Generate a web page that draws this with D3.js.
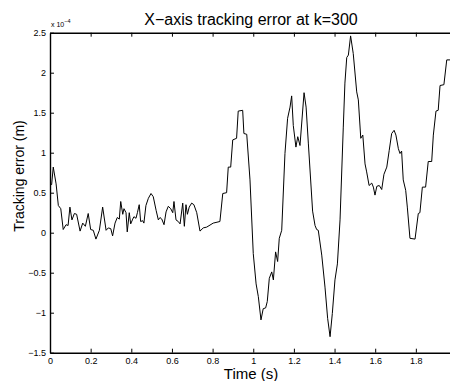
<!DOCTYPE html>
<html>
<head>
<meta charset="utf-8">
<script src="https://cdn.jsdelivr.net/npm/d3@7"></script>
<style>
  body { margin: 0; background: #fff; }
  svg { display: block; font-family: "Liberation Sans", Arial, Helvetica, sans-serif; }
</style>
</head>
<body>
<div id="chart"></div>
<script>
// time (s)
const timeValues = [
  0.000, 0.008, 0.016, 0.030, 0.041, 0.053, 0.065, 0.079, 0.089, 0.098,
  0.108, 0.120, 0.131, 0.148, 0.161, 0.174, 0.188, 0.200, 0.213, 0.226,
  0.243, 0.259, 0.276, 0.287, 0.299, 0.308, 0.320, 0.331, 0.341, 0.348,
  0.358, 0.364, 0.374, 0.380, 0.390, 0.397, 0.407, 0.413, 0.423, 0.430,
  0.439, 0.446, 0.456, 0.462, 0.472, 0.484, 0.497, 0.508, 0.522, 0.533,
  0.541, 0.550, 0.561, 0.571, 0.582, 0.594, 0.604, 0.610, 0.620, 0.631,
  0.640, 0.653, 0.661, 0.669, 0.676, 0.685, 0.697, 0.708, 0.722, 0.738,
  0.754, 0.771, 0.803, 0.836, 0.850, 0.869, 0.877, 0.889, 0.899, 0.918,
  0.926, 0.948, 0.954, 0.968, 0.984, 1.000, 1.014, 1.025, 1.038, 1.049,
  1.061, 1.069, 1.079, 1.091, 1.099, 1.110, 1.120, 1.128, 1.140, 1.156,
  1.169, 1.181, 1.189, 1.197, 1.210, 1.219, 1.230, 1.250, 1.260, 1.271,
  1.292, 1.304, 1.312, 1.320, 1.337, 1.353, 1.366, 1.378, 1.389, 1.402,
  1.414, 1.427, 1.443, 1.451, 1.460, 1.468, 1.479, 1.492, 1.509, 1.517,
  1.529, 1.539, 1.550, 1.558, 1.570, 1.583, 1.591, 1.599, 1.608, 1.620,
  1.632, 1.643, 1.657, 1.669, 1.681, 1.693, 1.702, 1.714, 1.722, 1.730,
  1.738, 1.750, 1.758, 1.771, 1.796, 1.812, 1.820, 1.832, 1.848, 1.861,
  1.878, 1.886, 1.899, 1.910, 1.919, 1.938, 1.952, 1.968
]
// tracking error, units of 1e-4 m
const errorValues = [
  0.62, 0.60, 0.82, 0.61, 0.34, 0.30, 0.04, 0.10, 0.09, 0.32,
  0.16, 0.24, 0.23, 0.02, 0.12, 0.08, 0.24, 0.04, 0.03, -0.08,
  0.03, 0.32, 0.03, 0.06, 0.05, -0.04, 0.12, 0.19, 0.17, 0.39,
  0.23, 0.30, 0.25, 0.01, 0.25, 0.11, 0.17, 0.20, 0.18, 0.25,
  0.35, 0.14, 0.15, 0.12, 0.34, 0.43, 0.49, 0.45, 0.28, 0.16,
  0.19, 0.17, 0.10, 0.26, 0.33, 0.30, 0.25, 0.39, 0.16, 0.14,
  0.11, 0.37, 0.08, 0.35, 0.23, 0.32, 0.37, 0.35, 0.25, 0.02,
  0.06, 0.07, 0.12, 0.14, 0.49, 0.50, 0.82, 0.82, 1.16, 1.18,
  1.52, 1.53, 1.24, 1.23, 0.66, -0.26, -0.64, -0.80, -1.09, -0.95,
  -0.94, -0.86, -0.57, -0.49, -0.59, -0.24, -0.36, -0.07, 0.03, 0.99,
  1.43, 1.57, 1.71, 1.34, 1.07, 1.20, 1.09, 1.75, 1.57, 1.12,
  0.27, 0.09, 0.04, 0.03, -0.28, -0.68, -1.07, -1.30, -1.01, -0.59,
  -0.39, 0.16, 1.32, 1.87, 2.19, 2.22, 2.46, 2.24, 1.76, 1.66,
  1.18, 1.22, 0.86, 0.76, 0.59, 0.62, 0.57, 0.47, 0.58, 0.59,
  0.54, 0.73, 0.82, 1.03, 1.24, 1.28, 1.22, 1.05, 0.99, 1.02,
  0.66, 0.53, 0.32, -0.07, -0.08, 0.24, 0.25, 0.57, 0.57, 0.89,
  0.89, 1.22, 1.52, 1.53, 1.84, 1.85, 2.16, 2.16
]
const xTicks = [0, 0.2, 0.4, 0.6, 0.8, 1, 1.2, 1.4, 1.6, 1.8]
const yTicks = [-1.5, -1, -0.5, 0, 0.5, 1, 1.5, 2, 2.5]

const W = 450, H = 381
const plotLeft = 50, plotTop = 32.7, plotBottom = 352.7

const x = d3.scaleLinear().domain([0, 1.98]).range([plotLeft, plotLeft + 1.98 * 203.25])
const y = d3.scaleLinear().domain([-1.5, 2.5]).range([plotBottom, plotTop])

const svg = d3.select("#chart").append("svg")
  .attr("width", W)
  .attr("height", H)

const fmt = d => d3.format("")(d).replace("-", "\u2212")

// bottom + top axes, ticks pointing inward
svg.append("g")
  .attr("transform", `translate(0,${plotBottom})`)
  .call(d3.axisBottom(x).tickValues(xTicks).tickSizeInner(-4).tickSizeOuter(0).tickPadding(4.5).tickFormat(fmt))
svg.append("g")
  .attr("transform", `translate(0,${plotTop})`)
  .call(d3.axisTop(x).tickValues(xTicks).tickSizeInner(-4).tickSizeOuter(0).tickFormat(""))
svg.append("g")
  .attr("transform", `translate(${plotLeft},0)`)
  .call(d3.axisLeft(y).tickValues(yTicks).tickSizeInner(-4).tickSizeOuter(0).tickPadding(4).tickFormat(fmt))

svg.selectAll(".domain").attr("stroke", "#000").attr("stroke-width", 1.4)
svg.selectAll(".tick line").attr("stroke", "#000").attr("stroke-width", 1)
svg.selectAll(".tick text")
  .attr("fill", "#000")
  .attr("font-size", 9)
  .style("font-family", "Liberation Sans, Arial, sans-serif")

const line = d3.line()
  .x((d, i) => x(timeValues[i]))
  .y(d => y(d))

svg.append("path")
  .datum(errorValues)
  .attr("fill", "none")
  .attr("stroke", "#000")
  .attr("stroke-width", 1)
  .attr("stroke-linejoin", "round")
  .attr("d", line)

// exponent label
const ex = svg.append("text")
  .attr("x", plotLeft + 1)
  .attr("y", 27)
  .attr("font-size", 7)
  .attr("fill", "#000")
ex.append("tspan").text("x 10")
ex.append("tspan").attr("dy", -4).attr("font-size", 5.5).text("\u22124")

svg.append("text")
  .attr("x", 251)
  .attr("y", 25)
  .attr("text-anchor", "middle")
  .attr("font-size", 16)
  .attr("fill", "#000")
  .text("X\u2212axis tracking error at k=300")

svg.append("text")
  .attr("x", 251)
  .attr("y", 379)
  .attr("text-anchor", "middle")
  .attr("font-size", 15)
  .attr("fill", "#000")
  .text("Time (s)")

svg.append("text")
  .attr("transform", "translate(24,176) rotate(-90)")
  .attr("text-anchor", "middle")
  .attr("font-size", 14)
  .attr("fill", "#000")
  .text("Tracking error (m)")
</script>
</body>
</html>
